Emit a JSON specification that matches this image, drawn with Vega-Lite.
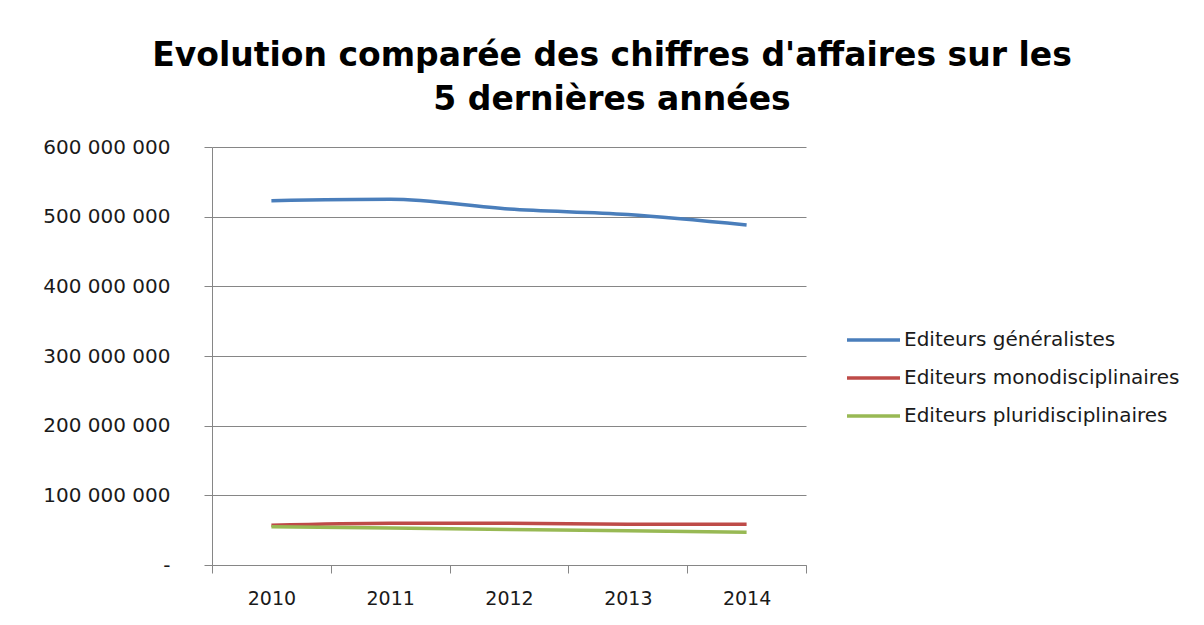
{
  "$schema": "https://vega.github.io/schema/vega-lite/v6.json",
  "autosize": "none",
  "width": 594,
  "height": 418,
  "padding": {"left": 212, "top": 147, "right": 398, "bottom": 60},
  "background": "white",
  "config": {
    "locale": {"number": {"decimal": ",", "thousands": " ", "grouping": [3], "currency": ["", " €"]}},
    "view": {"stroke": null},
    "font": "DejaVu Sans"
  },
  "title": {
    "text": ["Evolution comparée des chiffres d'affaires sur les", "5 dernières années"],
    "font": "DejaVu Sans",
    "fontSize": 33,
    "fontWeight": "bold",
    "color": "#000000",
    "anchor": "middle",
    "frame": "group",
    "dx": 103,
    "dy": 43,
    "lineHeight": 44,
    "baseline": "alphabetic",
    "offset": 37
  },
  "data": {
    "values": [
      {"annee": "2010", "serie": "Editeurs généralistes", "ca": 523000000},
      {"annee": "2011", "serie": "Editeurs généralistes", "ca": 525000000},
      {"annee": "2012", "serie": "Editeurs généralistes", "ca": 511000000},
      {"annee": "2013", "serie": "Editeurs généralistes", "ca": 503000000},
      {"annee": "2014", "serie": "Editeurs généralistes", "ca": 488000000},
      {"annee": "2010", "serie": "Editeurs monodisciplinaires", "ca": 57000000},
      {"annee": "2011", "serie": "Editeurs monodisciplinaires", "ca": 60000000},
      {"annee": "2012", "serie": "Editeurs monodisciplinaires", "ca": 60000000},
      {"annee": "2013", "serie": "Editeurs monodisciplinaires", "ca": 58500000},
      {"annee": "2014", "serie": "Editeurs monodisciplinaires", "ca": 58500000},
      {"annee": "2010", "serie": "Editeurs pluridisciplinaires", "ca": 55000000},
      {"annee": "2011", "serie": "Editeurs pluridisciplinaires", "ca": 53000000},
      {"annee": "2012", "serie": "Editeurs pluridisciplinaires", "ca": 51000000},
      {"annee": "2013", "serie": "Editeurs pluridisciplinaires", "ca": 49000000},
      {"annee": "2014", "serie": "Editeurs pluridisciplinaires", "ca": 47000000}
    ]
  },
  "mark": {"type": "line", "strokeWidth": 3.5, "interpolate": "monotone"},
  "encoding": {
    "x": {
      "field": "annee",
      "type": "ordinal",
      "bandPosition": 0.5,
      "scale": {"type": "band", "paddingInner": 0, "paddingOuter": 0},
      "axis": {
        "title": null,
        "labelAngle": 0,
        "labelFont": "DejaVu Sans",
        "labelFontSize": 19,
        "labelColor": "#1a1a1a",
        "labelPadding": 16,
        "tickBand": "extent",
        "tickSize": 8,
        "tickColor": "#868686",
        "domainColor": "#868686",
        "grid": false
      }
    },
    "y": {
      "field": "ca",
      "type": "quantitative",
      "scale": {"domain": [0, 600000000], "nice": false},
      "axis": {
        "title": null,
        "values": [0, 100000000, 200000000, 300000000, 400000000, 500000000, 600000000],
        "format": ",d",
        "labelExpr": "datum.value === 0 ? '-\u00a0\u00a0\u00a0' : datum.label",
        "labelFont": "DejaVu Sans",
        "labelFontSize": 20,
        "labelColor": "#1a1a1a",
        "labelPadding": 34,
        "tickSize": 8,
        "tickColor": "#868686",
        "domainColor": "#868686",
        "grid": true,
        "gridColor": "#868686",
        "gridWidth": 1
      }
    },
    "color": {
      "field": "serie",
      "type": "nominal",
      "scale": {
        "domain": ["Editeurs généralistes", "Editeurs monodisciplinaires", "Editeurs pluridisciplinaires"],
        "range": ["#4A7EBB", "#BE4B48", "#98B954"]
      },
      "legend": {
        "title": null,
        "orient": "none",
        "legendX": 633,
        "legendY": 174,
        "padding": 0,
        "symbolType": "stroke",
        "symbolSize": 2809,
        "symbolStrokeWidth": 3.5,
        "clipHeight": 38,
        "rowPadding": 0,
        "labelOffset": 2,
        "labelLimit": 400,
        "labelFont": "DejaVu Sans",
        "labelFontSize": 20,
        "labelColor": "#1a1a1a"
      }
    }
  }
}
